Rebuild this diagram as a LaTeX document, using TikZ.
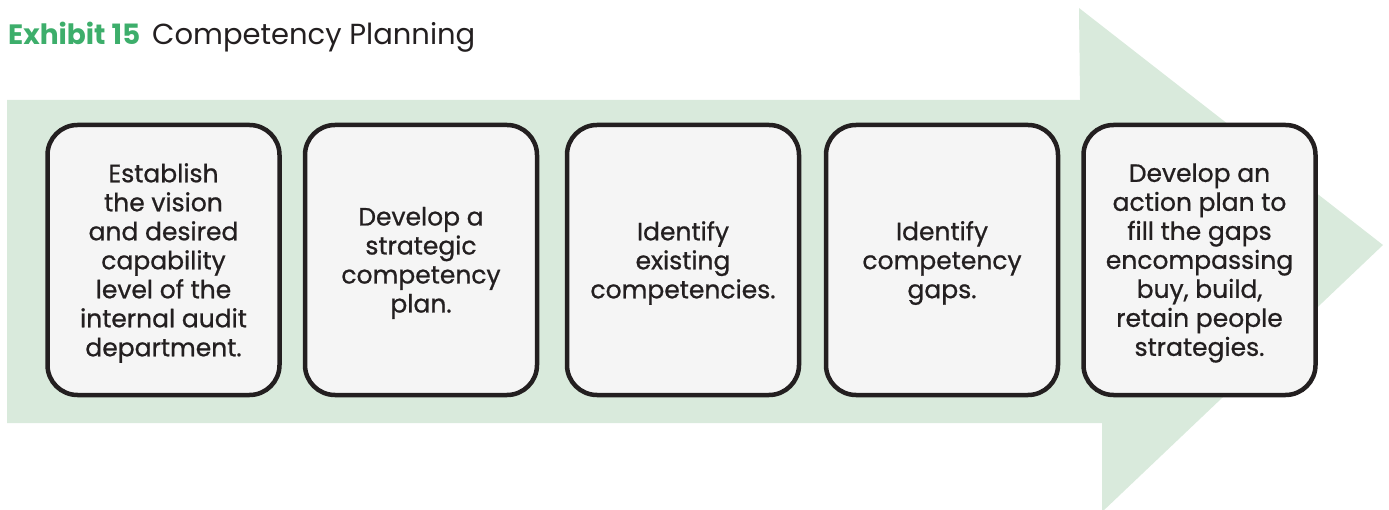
\documentclass[tikz,border=0pt]{standalone}
\usepackage{fontspec}
\setmainfont{Poppins}
\definecolor{titlegreen}{RGB}{61,174,107}
\definecolor{arrowgreen}{RGB}{217,234,220}
\definecolor{boxfill}{RGB}{245,245,245}
\definecolor{inkdark}{RGB}{35,31,32}
\tikzset{
  stepbox/.style={draw=inkdark, fill=boxfill, line width=4.5pt, rounded corners=30pt,
    minimum width=232pt, minimum height=270pt, inner sep=0pt},
  steptext/.style={inner sep=0pt, align=center,
    text=inkdark, font=\fontsize{25}{29}\selectfont\addfontfeatures{FakeBold=0.8}},
  titletext/.style={anchor=base west, inner sep=0pt, font=\fontsize{28}{32}\selectfont}
}
\begin{document}
\begin{tikzpicture}[x=1pt,y=-1pt]
\useasboundingbox (0,0) rectangle (1389,510);
\fill[arrowgreen] (7,100) -- (1080,100) -- (1079,8) -- (1383,245) -- (1102,512) -- (1102,423) -- (7,423) -- cycle;
\node[titletext] (title) at (8,45) {\textcolor{titlegreen}{\bfseries Exhibit 15}\hspace{12pt}\textcolor{inkdark}{\fontsize{29}{32}\selectfont Competency Planning}};
\node[stepbox] (s1) at (163.5,260) {};
\node[stepbox] (s2) at (421,260) {};
\node[stepbox] (s3) at (683,260) {};
\node[stepbox] (s4) at (942,260) {};
\node[stepbox] (s5) at (1199.5,260) {};
\node[steptext] (t1) at ([yshift=-3pt]s1.center) {Establish\\the vision\\and desired\\capability\\level of the\\internal audit\\department.};
\node[steptext] (t2) at ([yshift=-3pt]s2.center) {Develop a\\strategic\\competency\\plan.};
\node[steptext] (t3) at ([yshift=-3pt]s3.center) {Identify\\existing\\competencies.};
\node[steptext] (t4) at ([yshift=-3pt]s4.center) {Identify\\competency\\gaps.};
\node[steptext] (t5) at ([yshift=-3pt]s5.center) {Develop an\\action plan to\\fill the gaps\\encompassing\\buy, build,\\retain people\\strategies.};
\end{tikzpicture}
\end{document}
